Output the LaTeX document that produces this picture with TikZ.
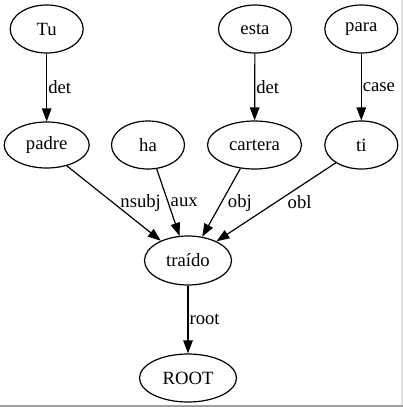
\documentclass[tikz,border=0pt]{standalone}
\usepackage{fontspec}
\setmainfont{Liberation Serif}
\usetikzlibrary{arrows.meta,shapes.geometric}
\begin{document}
\begin{tikzpicture}[x=1pt,y=-1pt,
  tok/.style={ellipse,draw,line width=1.2pt,inner sep=0pt,minimum height=48pt,
    font=\fontsize{18.67pt}{22pt}\selectfont},
  dep/.style={line width=1.2pt,-{Triangle[length=13pt,width=9.5pt]}},
  lbl/.style={inner sep=1pt,anchor=west,font=\fontsize{18.67pt}{22pt}\selectfont}]
\useasboundingbox (0,0) rectangle (403,407);
\fill[white] (0,0) rectangle (403,407);
\fill[gray!25] (401,0) rectangle (403,405);
\fill[gray!75] (0,405) rectangle (403,407);
% nodes
\node[tok,minimum width=73pt] (tu) at (46.7,29) {Tu};
\node[tok,minimum width=73pt] (esta) at (255,29) {esta};
\node[tok,minimum width=73pt] (para) at (361.3,29) {para};
\node[tok,minimum width=85pt,minimum height=46pt] (padre) at (46.7,145) {padre};
\node[tok,minimum width=73pt] (ha) at (148,145) {ha};
\node[tok,minimum width=94pt] (cartera) at (254.5,145) {cartera};
\node[tok,minimum width=73pt] (ti) at (361.3,145) {ti};
\node[tok,minimum width=87pt,minimum height=49pt] (traido) at (188,260.5) {traído};
\node[tok,minimum width=97pt] (root) at (188,378) {ROOT};
% edges
\draw[dep] (tu) -- node[lbl,pos=0.5] {det} (padre);
\draw[dep] (esta) -- node[lbl,pos=0.5] {det} (cartera);
\draw[dep] (para) -- node[lbl,pos=0.5] {case} (ti);
\draw[dep] (padre.-46) -- node[lbl,pos=0.5,xshift=5pt] {nsubj} (traido.144);
\draw[dep] (ha.-70) -- node[lbl,pos=0.5,xshift=1pt] {aux} (traido.109);
\draw[dep] (cartera.-121) -- node[lbl,pos=0.5,xshift=5pt] {obj} (traido.59);
\draw[dep] (ti.-145) -- node[lbl,pos=0.5,xshift=10pt] {obl} (traido.34);
\draw[dep] (traido) -- node[lbl,pos=0.5] {root} (root);
\end{tikzpicture}
\end{document}
